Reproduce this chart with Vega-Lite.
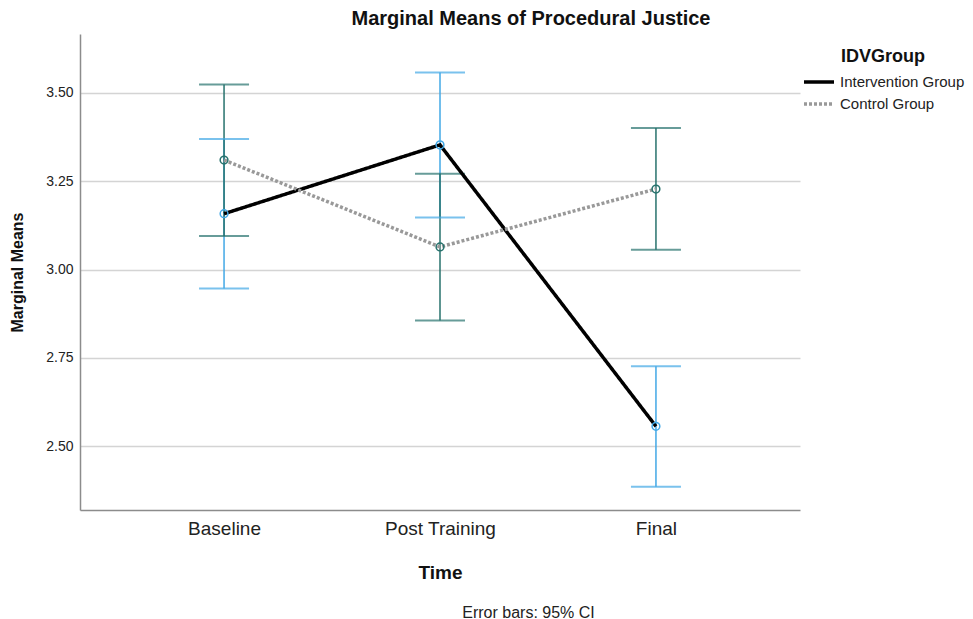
{
  "$schema": "https://vega.github.io/schema/vega-lite/v6.json",
  "autosize": "none",
  "width": 720,
  "height": 476,
  "padding": {"left": 80, "top": 34, "right": 173, "bottom": 109},
  "background": "white",
  "config": {
    "font": "Liberation Sans",
    "view": {"stroke": null},
    "axis": {"labelColor": "#222222", "titleColor": "#111111", "domainColor": "#8c8c8c", "domainWidth": 1.5, "gridColor": "#d4d4d4", "gridWidth": 1.5, "ticks": false}
  },
  "title": {"text": "Marginal Means of Procedural Justice", "fontSize": 20, "fontWeight": "bold", "color": "#111111", "anchor": "middle", "dx": 91, "offset": 5},
  "data": {"values": [
    {"time": "Baseline", "group": "Intervention Group", "mean": 3.158, "lower": 2.946, "upper": 3.370},
    {"time": "Post Training", "group": "Intervention Group", "mean": 3.353, "lower": 3.147, "upper": 3.558},
    {"time": "Final", "group": "Intervention Group", "mean": 2.556, "lower": 2.385, "upper": 2.726},
    {"time": "Baseline", "group": "Control Group", "mean": 3.310, "lower": 3.095, "upper": 3.524},
    {"time": "Post Training", "group": "Control Group", "mean": 3.064, "lower": 2.856, "upper": 3.271},
    {"time": "Final", "group": "Control Group", "mean": 3.228, "lower": 3.056, "upper": 3.401}
  ]},
  "resolve": {"axis": {"x": "independent"}},
  "layer": [
    {
      "mark": {"type": "rule", "strokeWidth": 1.5},
      "encoding": {
        "x": {"field": "time", "type": "nominal", "sort": ["Baseline", "Post Training", "Final"],
              "scale": {"type": "point", "padding": 0.667},
              "axis": {"orient": "bottom", "title": "Error bars: 95% CI", "labels": false, "domain": false, "grid": false, "titleFontSize": 16, "titleFontWeight": "normal", "titleColor": "#222222", "titleX": 448, "titleY": 94, "titleBaseline": "top"}},
        "y": {"field": "lower", "type": "quantitative", "scale": {"domain": [2.319, 3.667], "nice": false, "zero": false},
              "axis": {"title": "Marginal Means", "values": [2.5, 2.75, 3.0, 3.25, 3.5], "format": ".2f", "labelFontSize": 14, "labelPadding": 7, "titleFontSize": 16, "titleFontWeight": "bold", "titlePadding": 20, "grid": true}},
        "y2": {"field": "upper"},
        "color": {"field": "group", "type": "nominal", "scale": {"domain": ["Control Group", "Intervention Group"], "range": ["#27726d", "#42a8e6"]}, "legend": null}
      }
    },
    {
      "mark": {"type": "tick", "size": 50, "thickness": 2},
      "encoding": {
        "x": {"field": "time", "type": "nominal", "sort": ["Baseline", "Post Training", "Final"], "axis": null},
        "y": {"field": "lower", "type": "quantitative"},
        "color": {"field": "group", "type": "nominal", "legend": null}
      }
    },
    {
      "mark": {"type": "tick", "size": 50, "thickness": 2},
      "encoding": {
        "x": {"field": "time", "type": "nominal", "sort": ["Baseline", "Post Training", "Final"], "axis": null},
        "y": {"field": "upper", "type": "quantitative"},
        "color": {"field": "group", "type": "nominal", "legend": null}
      }
    },
    {
      "mark": {"type": "line", "strokeWidth": 3.5},
      "encoding": {
        "x": {"field": "time", "type": "nominal", "sort": ["Baseline", "Post Training", "Final"],
              "axis": {"orient": "bottom", "title": "Time", "labelAngle": 0, "labelFontSize": 19, "labelPadding": 9, "titleFontSize": 19, "titleFontWeight": "bold", "titlePadding": 25, "grid": false}},
        "y": {"field": "mean", "type": "quantitative"},
        "stroke": {"field": "group", "type": "nominal", "scale": {"domain": ["Intervention Group", "Control Group"], "range": ["#000000", "#999999"]},
                  "legend": {"title": "IDVGroup", "orient": "none", "legendX": 722, "legendY": 14, "titleFontSize": 18, "titleFontWeight": "bold", "titleColor": "#111111", "titleAnchor": "middle", "titlePadding": 6, "labelFontSize": 15, "labelColor": "#222222", "symbolType": "stroke", "symbolSize": 900, "symbolStrokeWidth": 3.5, "clipHeight": 20, "rowPadding": 2, "labelOffset": 4}},
        "strokeDash": {"field": "group", "type": "nominal", "scale": {"domain": ["Intervention Group", "Control Group"], "range": [[1, 0], [3, 2]]}}
      }
    },
    {
      "mark": {"type": "point", "filled": false, "size": 60, "strokeWidth": 1.5, "opacity": 1},
      "encoding": {
        "x": {"field": "time", "type": "nominal", "sort": ["Baseline", "Post Training", "Final"], "axis": null},
        "y": {"field": "mean", "type": "quantitative"},
        "color": {"field": "group", "type": "nominal", "legend": null}
      }
    }
  ]
}
